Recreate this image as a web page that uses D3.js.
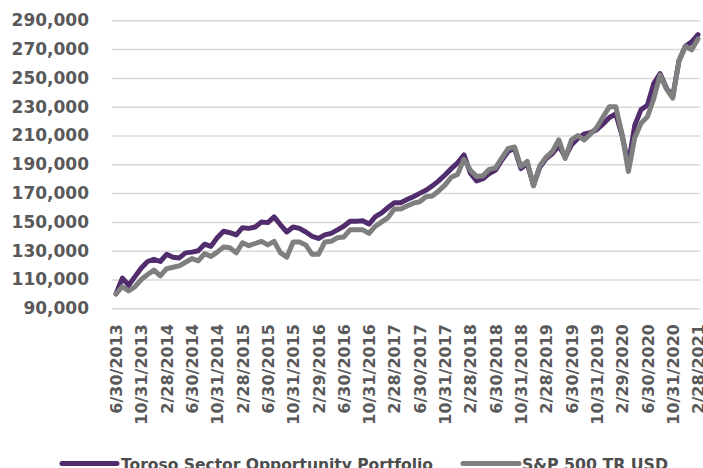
<!DOCTYPE html>
<html lang="en">
<head>
  <meta charset="UTF-8">
  <title>Growth of 100,000</title>
  <script src="https://d3js.org/d3.v7.min.js"></script>
  <style>
    html, body { margin: 0; padding: 0; background: #fff; overflow: hidden; }
    svg { font-family: "DejaVu Sans", sans-serif; }
  </style>
</head>
<body>
<div id="chart"></div>
<script>
  // monthly values, 6/30/2013 .. 2/28/2021
  const toroso = [
    100000, 111000, 106000, 112000, 118000, 122500, 124000, 122500, 127500, 125500,
    125000, 128500, 129000, 130000, 134500, 133000, 139000, 143500, 142500, 141000,
    146000, 145500, 146500, 150000, 149500, 153500, 148000, 143000, 146500, 145500,
    143000, 140000, 138500, 141000, 142000, 144500, 147000, 150500, 150500, 150800,
    148500, 153600, 156300, 160000, 163300, 163300, 165500, 167500, 169800, 172000,
    175000, 178500, 182600, 187000, 191000, 196500, 184000, 178500, 180000, 183500,
    186000, 193000, 199000, 201000, 187000, 190500, 175500, 188000, 194000, 197500,
    203000, 195000, 203500, 208000, 211000, 212000, 214000, 218000, 222500, 225000,
    210000, 190000, 217000, 228000, 231000, 246000, 253000, 243000, 237000, 262000,
    272000, 275000, 280000
  ];
  const sp500 = [
    100000, 105000, 102000, 105000, 110000, 113500, 116500, 112500, 117500, 118500,
    119500, 122000, 124500, 123000, 128000, 126000, 129000, 132500, 132000, 128500,
    135500, 133500, 135000, 136500, 134000, 136500, 128500, 125500, 136000, 136000,
    134000, 127500, 127500, 136000, 136500, 139000, 139500, 144500, 144500, 144500,
    142000, 147000, 150000, 153000, 159000, 159000, 161000, 163000, 164000, 167500,
    168000, 171500, 175500, 181000, 183000, 193500, 186000, 181500, 182000, 186500,
    187500, 194500, 201000, 202000, 188500, 192000, 175000, 189000, 195000, 199000,
    207000, 194000, 207000, 210000, 207000, 211000, 215500, 223000, 230000, 230000,
    211000, 185000, 208500, 218500, 223000, 235500, 252000, 242500, 236000, 262000,
    272000, 269500, 277000
  ];
  const tickLabels = [
    "6/30/2013", "10/31/2013", "2/28/2014", "6/30/2014", "10/31/2014", "2/28/2015",
    "6/30/2015", "10/31/2015", "2/29/2016", "6/30/2016", "10/31/2016", "2/28/2017",
    "6/30/2017", "10/31/2017", "2/28/2018", "6/30/2018", "10/31/2018", "2/28/2019",
    "6/30/2019", "10/31/2019", "2/29/2020", "6/30/2020", "10/31/2020", "2/28/2021"
  ];
  const yTicks = [90000, 110000, 130000, 150000, 170000, 190000, 210000, 230000, 250000, 270000, 290000];
  const seriesNames = ["Toroso Sector Opportunity Portfolio", "S&P 500 TR USD"];
  const seriesColors = ["#512d6d", "#7f7f7f"];

  const width = 703, height = 468;
  const left = 112, right = 700;

  const svg = d3.select("#chart").append("svg")
    .attr("width", width)
    .attr("height", height);

  const months = d3.range(toroso.length);

  const x = d3.scalePoint()
    .domain(months)
    .range([116, 698]);

  const y = d3.scaleLinear()
    .domain([90000, 290000])
    .range([308.3, 20.3]);

  // y axis with gridlines
  const yAxis = svg.append("g")
    .attr("transform", `translate(${left},0)`)
    .call(d3.axisLeft(y)
      .tickValues(yTicks)
      .tickSize(-(right - left))
      .tickPadding(23)
      .tickFormat(d3.format(",")));
  yAxis.select(".domain").remove();
  yAxis.selectAll(".tick line")
    .attr("stroke", "#d9d9d9")
    .attr("stroke-width", 1.5);
  yAxis.selectAll(".tick text")
    .attr("fill", "#595959")
    .style("font-size", "17px")
    .style("font-weight", "bold")
    .style("font-family", "DejaVu Sans, sans-serif");

  // x axis, rotated labels every 4 months
  const xAxis = svg.append("g")
    .attr("transform", "translate(0,324)")
    .call(d3.axisBottom(x)
      .tickValues(tickLabels.map((d, i) => i * 4))
      .tickSize(0)
      .tickPadding(0)
      .tickFormat((d, i) => tickLabels[i]));
  xAxis.select(".domain").remove();
  xAxis.selectAll(".tick text")
    .attr("fill", "#595959")
    .attr("x", 0)
    .attr("y", 0)
    .attr("dy", "0.35em")
    .attr("transform", "rotate(-90)")
    .style("text-anchor", "end")
    .style("font-size", "16px")
    .style("font-weight", "bold")
    .style("font-family", "DejaVu Sans, sans-serif");

  const line = d3.line()
    .x((d, i) => x(i))
    .y(d => y(d));

  [toroso, sp500].forEach((s, k) => {
    svg.append("path")
      .datum(s)
      .attr("d", line)
      .attr("fill", "none")
      .attr("stroke", seriesColors[k])
      .attr("stroke-width", 5)
      .attr("stroke-linejoin", "round")
      .attr("stroke-linecap", "round");
  });

  // legend (cut off at the bottom like the original)
  const legend = [
    { x1: 62, x2: 117, tx: 121, tl: 312 },
    { x1: 463, x2: 519, tx: 522, tl: 146 }
  ];
  legend.forEach((l, k) => {
    svg.append("line")
      .attr("x1", l.x1).attr("x2", l.x2)
      .attr("y1", 463.5).attr("y2", 463.5)
      .attr("stroke", seriesColors[k])
      .attr("stroke-width", 5)
      .attr("stroke-linecap", "round");
    svg.append("text")
      .attr("x", l.tx)
      .attr("y", 470)
      .attr("textLength", l.tl)
      .attr("lengthAdjust", "spacingAndGlyphs")
      .attr("fill", "#4d4d4d")
      .style("font-size", "16px")
      .style("font-weight", "bold")
      .text(seriesNames[k]);
  });
</script>
</body>
</html>
